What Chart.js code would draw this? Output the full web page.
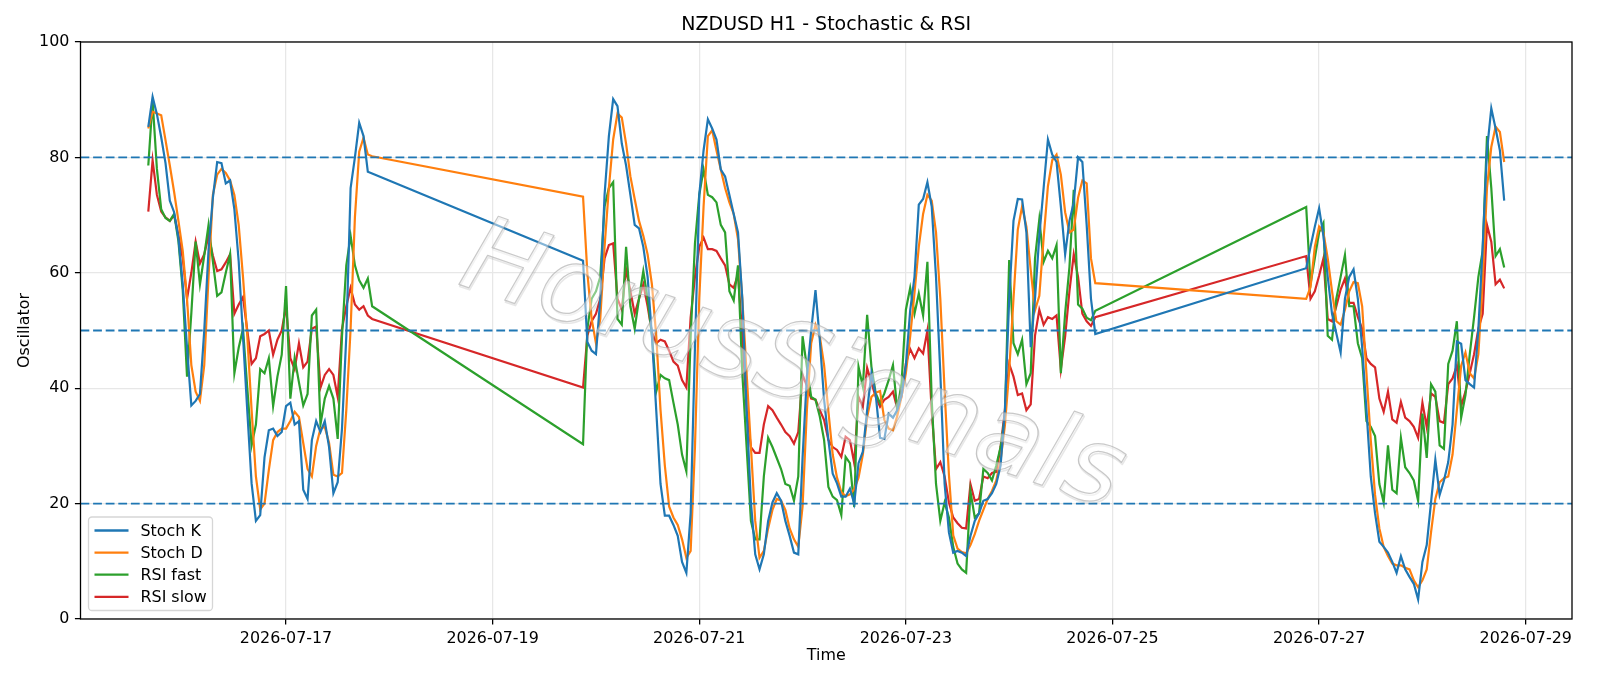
<!DOCTYPE html>
<html>
<head>
<meta charset="utf-8">
<title>NZDUSD H1 - Stochastic & RSI</title>
<script src="https://cdn.jsdelivr.net/npm/chart.js@4.4.1/dist/chart.umd.min.js"></script>
<style>
  html, body { margin: 0; padding: 0; background: #fff; }
  #chart { display: block; }
</style>
</head>
<body>
<canvas id="chart" width="1600" height="686"></canvas>
<script>
// hourly bars, the market is closed over the weekends
const segmentStarts = ['2026-07-15T16:00', '2026-07-19T21:00', '2026-07-26T21:00'];
const segmentLengths = [53, 120, 47];

const tickDates = ['2026-07-17', '2026-07-19', '2026-07-21', '2026-07-23', '2026-07-25', '2026-07-27', '2026-07-29'];
const yTicks = [0, 20, 40, 60, 80, 100];
const levels = [80, 50, 20];

const stochK = [
    85.3, 90.5, 87.5, 83.5, 79, 72.5, 70.5, 66, 58, 47,
    37, 37.8, 39, 50, 64, 73, 79.2, 79, 75.5, 76,
    71, 62, 49, 36, 23.5, 17, 18, 28, 32.7, 33,
    31.7, 32.4, 36.9, 37.5, 33.7, 34.3, 22.4, 20.8, 31, 34.3,
    32.4, 34.3, 29.8, 21.8, 23.7, 33, 49, 74.7, 80, 86,
    83.7, 77.5, 77.2,
    // week 2
    62.1, 48, 46.5, 45.9, 55.5, 73.5, 83.7, 90.1, 88.9, 82.4,
    78.6, 73.5, 68.3, 67.7, 64.5, 59.3, 49.1, 36.2, 23.4, 17.9,
    17.9, 16.3, 14.4, 9.9, 8, 18.3, 47.1, 73.5, 81.2, 86.6,
    85, 83.1, 77.9, 76.7, 73.5, 70.2, 67, 55.5, 36.2, 20.2,
    11.2, 8.6, 11.2, 17, 20.2, 21.8, 20.5, 17, 14.4, 11.5,
    11.2, 28, 42, 50, 57, 48.4, 38, 31, 25.2, 23.5,
    21.2, 21.2, 22.6, 20, 27, 29, 36.2, 42.6, 38.8, 31.4,
    31.2, 35.6, 34.9, 36.2, 38.8, 43.9, 53.5, 59.3, 71.8, 72.8,
    75.7, 71.5, 59.3, 42.6, 23.4, 15, 11.5, 11.8, 11.5, 10.9,
    14.4, 17, 18.3, 20.5, 20.8, 21.8, 23.4, 26.6, 36.2, 55.5,
    69, 72.8, 72.7, 67, 47.1, 55.5, 66.4, 74.7, 83.1, 80.5,
    79.2, 71.5, 63.2, 69, 72.2, 80, 79.2, 68.3, 55.5, 49.4,
    // week 3
    60.8, 64.5, 68, 71.2, 66.4, 59.3, 52.9, 49.5, 46.2, 55.5,
    59.3, 60.6, 55.5, 47.1, 36.2, 24.7, 18.3, 13.4, 12.5, 11.5,
    9.9, 8, 10.9, 8.6, 7.3, 6.1, 3.4, 9.9, 12.8, 20.2,
    27.6, 21.5, 24, 27.2, 33.7, 48.1, 47.7, 41.4, 40.7, 40.1,
    50.3, 64.5, 81.2, 88.5, 85, 81.2, 72.5
];

const stochD = [
    85, 87.9, 87.6, 87.3, 83, 78.6, 74, 69, 63.8, 55.5,
    44, 39.4, 37.8, 44, 59.3, 73.5, 77, 78, 77.3, 76,
    73.5, 68.3, 59.3, 49, 36.2, 24.7, 19, 20, 25.8, 31,
    32.4, 33, 33, 34.3, 35.9, 35, 30.5, 26, 24.7, 30,
    33, 33.3, 30.5, 25, 24.7, 25.3, 36.2, 50.3, 69.6, 81,
    83.4, 80.5, 80.2,
    // week 2
    73.2, 60, 52, 47.8, 52, 64.5, 74.7, 83.1, 87.6, 86.9,
    82.4, 76.7, 72.8, 69, 66.4, 63.2, 58, 49.1, 36.2, 26.6,
    19.5, 17.6, 16.3, 13.8, 10.6, 11.8, 29.8, 55.5, 71.5, 83.7,
    84.7, 81.2, 77.9, 74.7, 72.2, 70.2, 65.8, 55.5, 42.6, 29.8,
    17, 10.6, 11.8, 15.7, 18.9, 20.8, 20.5, 18.9, 15.7, 13.8,
    12.5, 19.5, 36.2, 47.8, 51, 49, 44, 36, 28.5, 24.5,
    22, 21.3, 21.6, 22.5, 24.5, 28.5, 35, 38.5, 39.2, 39.5,
    34.5, 33, 32.7, 35.2, 38.6, 42.6, 49, 56.5, 64.5, 70.2,
    73.5, 72.5, 67, 55.5, 39.5, 25, 14.5, 12.2, 11.6, 11.4,
    12.8, 14.7, 17, 18.9, 20.8, 22.2, 24, 27.5, 33.5, 43,
    55.5, 67.5, 71.5, 68, 60.5, 53.5, 56, 66, 75, 79.5,
    80.5, 77, 70.5, 67, 67.5, 73, 76, 75.5, 62.5, 58.2,
    // week 3
    55.5, 57.5, 64.5, 68, 67, 62.5, 56.8, 51.6, 51, 53.6,
    56.8, 58.4, 58.2, 54.2, 42.6, 31, 21.5, 15.7, 12.5, 10.9,
    9.6, 9.3, 9.3, 8.9, 8.6, 6.7, 5.5, 6.7, 8.6, 15,
    20.8, 23.7, 24.4, 24.7, 28.5, 36.2, 43.9, 46.2, 42.6, 41.7,
    45.9, 58.7, 74.7, 81.8, 85.3, 84.4, 79.2
];

const rsiFast = [
    78.6, 89.8, 78, 71, 69.5, 69, 70.2, 65.5, 57, 42,
    53, 65.4, 58, 63, 68.3, 62, 56, 56.6, 60, 63.2,
    42.6, 47, 50.3, 40, 30.1, 33.7, 43.3, 42.6, 45.2, 36.9,
    42, 45.8, 57.7, 38.2, 45.2, 41, 37, 39, 52.6, 53.6,
    33.7, 38.2, 40.4, 38.2, 31.2, 49, 61.3, 66.4, 61.3, 58.7,
    57.4, 59, 54.2,
    // week 2
    30.3, 50.3, 55.5, 56.8, 59.3, 71.5, 74.7, 75.7, 52, 51,
    64.5, 54.2, 50.3, 55.5, 60.3, 55.5, 49.1, 39.4, 42.3, 41.7,
    41.4, 37.5, 33.7, 28.5, 25.6, 49, 65.1, 73.5, 77.9, 73.5,
    73.1, 72.2, 68.3, 67, 56.8, 55.2, 61.3, 42.6, 29.8, 17,
    13.8, 13.8, 24.7, 31.4, 29.8, 27.9, 26, 23.4, 23.1, 20.5,
    24.7, 49, 43.7, 38.5, 38, 35.1, 31, 22.9, 21.2, 20.6,
    18, 28.1, 27, 19.4, 43.7, 40.3, 52.7, 43.7, 39.1, 37.4,
    39.1, 41.4, 44, 36.2, 40.9, 53.6, 57.4, 52.9, 56.4, 52.6,
    61.9, 38, 23.4, 17, 20.2, 17.6, 12.5, 9.6, 8.6, 8,
    22.1, 17.6, 18.3, 26, 25.3, 24, 26.6, 29.8, 35, 62.2,
    47.8, 45.9, 48.4, 40.7, 42.6, 62.5, 69.3, 61.9, 63.8, 62.5,
    64.8, 42.6, 53, 61, 74.4, 54.5, 53.8, 52.2, 51.8, 53.4,
    // week 3
    71.4, 58, 62.5, 67, 68.6, 49.1, 48.4, 55.5, 59.3, 63.1,
    54.2, 54.2, 47.8, 45.2, 34.3, 33.3, 31.7, 23.4, 20.2, 30.1,
    22.4, 21.8, 31.4, 26.3, 25.3, 24, 20.5, 35.6, 27.9, 40.7,
    39.4, 30.1, 29.5, 44.2, 46.5, 51.6, 34.9, 38.8, 45.9, 52.3,
    59.3, 63.8, 83.7, 74.7, 62.9, 64.1, 60.9
];

const rsiSlow = [
    70.6, 79.5, 73.5, 70.6, 69.6, 69, 70, 66.5, 62.5, 55.5,
    60, 65.4, 61.6, 63.2, 66.4, 63, 60.3, 60.6, 61.8, 63.2,
    52.9, 54.5, 55.8, 50, 44.2, 45.2, 49, 49.4, 50, 45.8,
    48.4, 50, 54.2, 45.2, 43.3, 47.8, 43.6, 44.6, 50.3, 50.7,
    40.1, 42.3, 43.3, 42.3, 38.5, 50.3, 54.2, 57.4, 54.5, 53.6,
    54.2, 52.6, 52,
    // week 2
    40.1, 49.1, 51.6, 52.9, 55.5, 62.5, 64.8, 65.1, 55.5, 53.6,
    60.6, 56.8, 52.9, 55.5, 58, 54.2, 49.7, 47.8, 48.4, 48.1,
    46.5, 44.6, 43.9, 41.4, 40.1, 52.3, 59.3, 64.5, 66.1, 64.1,
    64.1, 63.8, 62.5, 61.3, 58, 57.4, 59.7, 49.1, 36.2, 29.8,
    28.8, 28.8, 33.7, 36.9, 36.2, 34.9, 33.7, 32.4, 31.7, 30.4,
    32.4, 42.3, 40.4, 38.2, 38, 36.2, 34.5, 31, 29.8, 29.3,
    28.1, 31.6, 31, 27, 38.5, 36.8, 43.5, 40.9, 38.5, 36.8,
    38, 38.5, 39.4, 36.5, 38.5, 44.3, 46.8, 45.2, 46.9, 46,
    50, 36, 26, 27.2, 24.7, 20.2, 17.6, 16.6, 15.8, 15.7,
    23.4, 20.5, 20.8, 24.7, 24.4, 25.3, 25.5, 29.8, 36.2, 44.2,
    42, 38.8, 39.1, 36.2, 37.2, 49.1, 53.6, 51, 52.3, 52,
    52.6, 43.3, 49, 56.8, 63.2, 59.3, 52.9, 51.6, 50.8, 52.3,
    // week 3
    62.9, 55.5, 56.8, 59.5, 62.5, 52, 51.6, 54.2, 57.1, 59,
    54.8, 54.8, 52.3, 50.3, 45.2, 44.2, 43.6, 38.2, 35.9, 39.4,
    34.6, 34, 37.6, 34.9, 34.3, 33.3, 31.4, 37.5, 33.3, 39.1,
    38.5, 34.3, 34, 40.7, 41.7, 43.9, 36.9, 39.4, 42.6, 45.9,
    50.3, 52.9, 68.3, 65.4, 58, 58.8, 57.3
];

const HOUR = 3600 * 1000;
let times = [];
for (let s = 0; s < segmentStarts.length; s++) {
    let start = Date.parse(segmentStarts[s] + ':00Z');
    for (let i = 0; i < segmentLengths[s]; i++) {
        times.push(start + i * HOUR);
    }
}

function toPoints(values) {
    return values.map((v, i) => ({ x: times[i], y: v }));
}

// same 5% side margins as the original plot
let first = times[0];
let last = times[times.length - 1];
let margin = (last - first) * 0.05;

let tickValues = tickDates.map(d => Date.parse(d + 'T00:00:00Z'));

const FONT = 'DejaVu Sans';
Chart.defaults.font.family = FONT;
Chart.defaults.font.size = 15.9;
Chart.defaults.color = '#000';

let series = [
    { label: 'Stoch K', data: stochK, color: '#1f77b4' },
    { label: 'Stoch D', data: stochD, color: '#ff7f0e' },
    { label: 'RSI fast', data: rsiFast, color: '#2ca02c' },
    { label: 'RSI slow', data: rsiSlow, color: '#d62728' }
];

// dashed 80 / 50 / 20 levels and the black frame
const levelLines = {
    id: 'levelLines',
    afterDatasetsDraw(chart) {
        const { ctx, chartArea, scales } = chart;
        ctx.save();
        ctx.strokeStyle = '#1f77b4';
        ctx.lineWidth = 1.9;
        ctx.setLineDash([8.8, 3.8]);
        levels.forEach(lv => {
            let y = scales.y.getPixelForValue(lv);
            ctx.beginPath();
            ctx.moveTo(chartArea.left, y);
            ctx.lineTo(chartArea.right, y);
            ctx.stroke();
        });
        ctx.setLineDash([]);
        ctx.strokeStyle = '#000';
        ctx.lineWidth = 1.3;
        ctx.strokeRect(chartArea.left, chartArea.top, chartArea.right - chartArea.left, chartArea.bottom - chartArea.top);
        ctx.restore();
    }
};

// legend box in the lower left corner of the plot
const cornerLegend = {
    id: 'cornerLegend',
    afterDraw(chart) {
        const { ctx, chartArea } = chart;
        let x0 = chartArea.left + 8, y0 = chartArea.bottom - 102;
        let w = 124, h = 93.5, r = 3.5;
        ctx.save();
        ctx.beginPath();
        ctx.roundRect(x0, y0, w, h, r);
        ctx.fillStyle = 'rgba(255,255,255,0.8)';
        ctx.fill();
        ctx.strokeStyle = '#d6d6d6';
        ctx.lineWidth = 1.3;
        ctx.stroke();
        ctx.font = '15.9px "' + FONT + '"';
        ctx.textBaseline = 'middle';
        ctx.textAlign = 'left';
        series.forEach((s, i) => {
            let y = y0 + 13.5 + i * 22.1;
            ctx.strokeStyle = s.color;
            ctx.lineWidth = 2.3;
            ctx.beginPath();
            ctx.moveTo(x0 + 6, y);
            ctx.lineTo(x0 + 40, y);
            ctx.stroke();
            ctx.fillStyle = '#000';
            ctx.fillText(s.label, x0 + 52, y + 1);
        });
        ctx.restore();
    }
};

// hollow watermark with a faint shadow
const watermark = {
    id: 'watermark',
    afterDraw(chart) {
        const { ctx } = chart;
        const text = 'HorusSignals';
        ctx.save();
        ctx.translate(792, 370);
        ctx.rotate(19 * Math.PI / 180);
        ctx.font = 'italic 106px "' + FONT + '"';
        ctx.textAlign = 'center';
        ctx.textBaseline = 'middle';
        ctx.lineJoin = 'round';
        ctx.strokeStyle = 'rgba(120,120,120,0.18)';
        ctx.lineWidth = 1.6;
        ctx.strokeText(text, 1.5, 1.5);
        ctx.fillStyle = 'rgba(255,255,255,0.45)';
        ctx.fillText(text, 0, 0);
        ctx.strokeStyle = 'rgba(165,165,165,0.6)';
        ctx.lineWidth = 1.2;
        ctx.strokeText(text, 0, 0);
        ctx.restore();
    }
};

new Chart(document.getElementById('chart'), {
    type: 'line',
    data: {
        datasets: series.map(s => ({
            label: s.label,
            data: toPoints(s.data),
            borderColor: s.color,
            backgroundColor: s.color,
            borderWidth: 2.2,
            pointRadius: 0,
            tension: 0,
            fill: false
        }))
    },
    options: {
        responsive: false,
        devicePixelRatio: 1,
        animation: false,
        events: [],
        layout: { padding: { left: 0, right: 28, top: 0, bottom: 0 } },
        plugins: {
            legend: { display: false },
            tooltip: { enabled: false },
            title: {
                display: true,
                text: 'NZDUSD H1 - Stochastic & RSI',
                fullSize: false,
                font: { size: 19, weight: 'normal', lineHeight: 1.2 },
                color: '#000',
                padding: { top: 14, bottom: 5.2 }
            }
        },
        scales: {
            x: {
                type: 'linear',
                min: first - margin,
                max: last + margin,
                afterBuildTicks: axis => {
                    axis.ticks = tickValues.map(v => ({ value: v }));
                },
                afterFit: scale => { scale.height = 67; },
                ticks: {
                    autoSkip: false,
                    maxRotation: 0,
                    padding: 5,
                    callback: v => new Date(v).toISOString().slice(0, 10)
                },
                grid: {
                    color: '#e7e7e7',
                    lineWidth: 1.27,
                    tickColor: '#000',
                    tickWidth: 1.27,
                    tickLength: 5.6
                },
                border: { display: false },
                title: {
                    display: true,
                    text: 'Time',
                    font: { size: 15.9, lineHeight: 1.2 },
                    padding: { top: 0, bottom: 20.4 }
                }
            },
            y: {
                min: 0,
                max: 100,
                afterBuildTicks: axis => {
                    axis.ticks = yTicks.map(v => ({ value: v }));
                },
                afterFit: scale => { scale.width = 80.5; },
                ticks: { padding: 5.5 },
                grid: {
                    color: '#e7e7e7',
                    lineWidth: 1.27,
                    tickColor: '#000',
                    tickWidth: 1.27,
                    tickLength: 5.6
                },
                border: { display: false },
                title: {
                    display: true,
                    text: 'Oscillator',
                    font: { size: 15.9, lineHeight: 1.2 },
                    padding: { top: 15.4, bottom: 0 }
                }
            }
        }
    },
    plugins: [levelLines, cornerLegend, watermark]
});
</script>
</body>
</html>
